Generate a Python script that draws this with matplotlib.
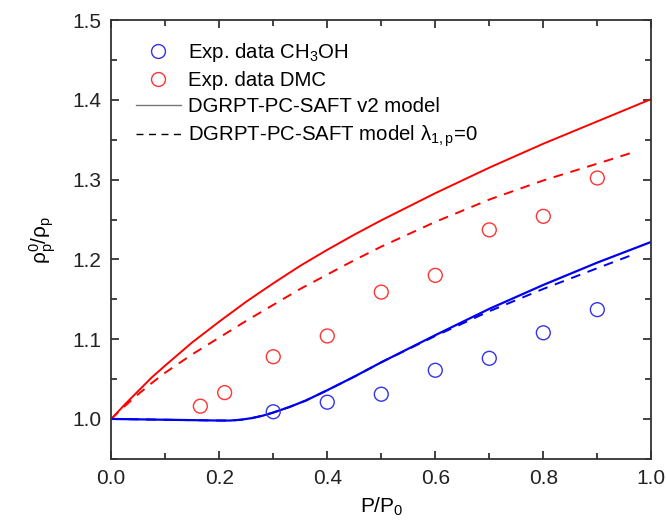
import numpy as np
import matplotlib.pyplot as plt
from matplotlib.lines import Line2D
from matplotlib.ticker import MultipleLocator

plt.rcParams["font.family"] = ["Liberation Sans", "DejaVu Sans"]
plt.rcParams["mathtext.fontset"] = "custom"
plt.rcParams["mathtext.rm"] = "Liberation Sans"
plt.rcParams["mathtext.it"] = "Liberation Sans"
plt.rcParams["mathtext.default"] = "regular"

# ----------------------------
# Data
# ----------------------------
x_ch3oh = [0.3, 0.4, 0.5, 0.6, 0.7, 0.8, 0.9]
y_ch3oh = [1.009, 1.021, 1.031, 1.061, 1.076, 1.108, 1.137]

x_dmc = [0.165, 0.21, 0.3, 0.4, 0.5, 0.6, 0.7, 0.8, 0.9]
y_dmc = [1.016, 1.033, 1.078, 1.104, 1.159, 1.180, 1.237, 1.254, 1.302]

# model curves
x_red_v2 = [0.0, 0.025, 0.05, 0.075, 0.1, 0.15, 0.2, 0.25, 0.3, 0.35, 0.4, 0.45,
            0.5, 0.6, 0.7, 0.8, 0.9, 1.0]
y_red_v2 = [1.0, 1.018, 1.035, 1.052, 1.067, 1.096, 1.122, 1.147, 1.170, 1.192, 1.212, 1.231,
            1.249, 1.283, 1.315, 1.345, 1.373, 1.401]

x_red_l0 = [0.0, 0.025, 0.05, 0.075, 0.1, 0.15, 0.2, 0.25, 0.3, 0.35, 0.4, 0.45,
            0.5, 0.6, 0.7, 0.8, 0.9, 0.97]
y_red_l0 = [1.0, 1.016, 1.031, 1.045, 1.058, 1.081, 1.102, 1.123, 1.143, 1.163, 1.181, 1.199,
            1.216, 1.247, 1.275, 1.299, 1.320, 1.335]

x_blue_v2 = [0.0, 0.1, 0.2, 0.22, 0.24, 0.26, 0.28, 0.3, 0.33, 0.36, 0.4, 0.45,
             0.5, 0.6, 0.7, 0.8, 0.9, 1.0]
y_blue_v2 = [1.0, 0.999, 0.998, 0.998, 0.999, 1.001, 1.004, 1.008, 1.015, 1.023, 1.036, 1.053,
             1.071, 1.105, 1.138, 1.168, 1.196, 1.222]

x_blue_l0 = [0.0, 0.1, 0.2, 0.22, 0.24, 0.26, 0.28, 0.3, 0.33, 0.36, 0.4, 0.45,
             0.5, 0.6, 0.7, 0.8, 0.9, 0.97]
y_blue_l0 = [1.0, 0.999, 0.998, 0.998, 0.999, 1.001, 1.004, 1.008, 1.015, 1.023, 1.036, 1.053,
             1.071, 1.104, 1.135, 1.163, 1.189, 1.207]

RED = "#ff0000"
BLUE = "#0000ee"

# ----------------------------
# Plot
# ----------------------------
fig = plt.figure(figsize=(6.66, 5.28), dpi=100)
ax = fig.add_axes([0.167, 0.131, 0.811, 0.831])

ax.plot(x_red_v2, y_red_v2, color=RED, lw=1.4)
ax.plot(x_red_l0, y_red_l0, color=RED, lw=1.4, ls=(0, (5, 4)))
ax.plot(x_blue_v2, y_blue_v2, color=BLUE, lw=1.6)
ax.plot(x_blue_l0, y_blue_l0, color=BLUE, lw=1.4, ls=(0, (5, 4)))

ax.scatter(x_ch3oh, y_ch3oh, s=100, facecolors="none", edgecolors="#3333ee", linewidths=1.0, zorder=5)
ax.scatter(x_dmc, y_dmc, s=100, facecolors="none", edgecolors="#ff3333", linewidths=1.0, zorder=5)

ax.set_xlim(0.0, 1.0)
ax.set_ylim(0.95, 1.5)
ax.xaxis.set_minor_locator(MultipleLocator(0.1))
ax.yaxis.set_minor_locator(MultipleLocator(0.05))
ax.set_xticks([0.0, 0.2, 0.4, 0.6, 0.8, 1.0])
ax.set_xticklabels(["0.0", "0.2", "0.4", "0.6", "0.8", "1.0"])
ax.set_yticks([1.0, 1.1, 1.2, 1.3, 1.4, 1.5])
ax.set_yticklabels(["1.0", "1.1", "1.2", "1.3", "1.4", "1.5"])
ax.tick_params(which="both", direction="in", top=True, right=True, labelsize=15, width=1.2, colors="#222222")
ax.tick_params(which="major", length=6, pad=7)
ax.tick_params(which="minor", length=4)
for sp in ax.spines.values():
    sp.set_linewidth(1.3)
    sp.set_color("#333333")

ax.set_xlabel("P/P$_0$", fontsize=15, labelpad=6)
ax.set_ylabel(r"$\rho_p^0/\rho_p$", fontsize=15, labelpad=10)

handles = [
    Line2D([], [], ls="none", marker="o", markersize=10, markerfacecolor="none",
           markeredgecolor="#3333ee", markeredgewidth=1.0),
    Line2D([], [], ls="none", marker="o", markersize=10, markerfacecolor="none",
           markeredgecolor="#ff3333", markeredgewidth=1.0),
    Line2D([], [], color="#777777", lw=1.0),
    Line2D([], [], color="black", lw=1.0, ls=(0, (5, 4))),
]
labels = [
    "Exp. data CH$_3$OH",
    "Exp. data DMC",
    "DGRPT-PC-SAFT v2 model",
    r"DGRPT-PC-SAFT model $\lambda_{1,p}$=0",
]
ax.legend(handles, labels, loc="upper left", bbox_to_anchor=(0.015, 0.99), frameon=False,
          fontsize=14.7, handlelength=2.2, handletextpad=0.34, labelspacing=0.36, borderpad=0.3)

fig.savefig("out.png", dpi=100)
